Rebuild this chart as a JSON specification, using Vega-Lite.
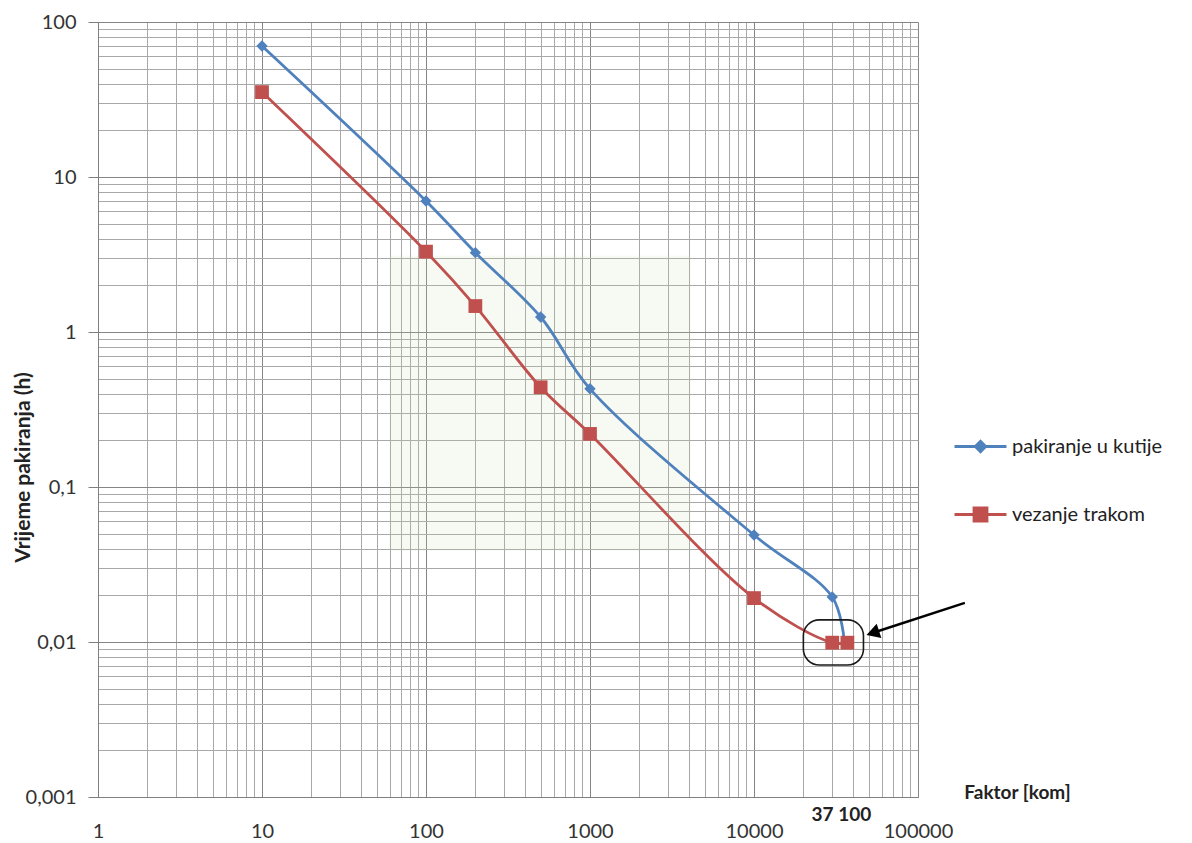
{
  "$schema": "https://vega.github.io/schema/vega-lite/v6.json",
  "width": 820,
  "height": 775,
  "autosize": "none",
  "padding": {"left": 98, "top": 22, "right": 274, "bottom": 46},
  "background": "white",
  "config": {
    "view": {"stroke": null},
    "font": "Lato"
  },
  "datasets": {
    "series": [
      {"faktor": 10, "vrijeme": 70, "serija": "pakiranje u kutije"},
      {"faktor": 100, "vrijeme": 7, "serija": "pakiranje u kutije"},
      {"faktor": 200, "vrijeme": 3.25, "serija": "pakiranje u kutije"},
      {"faktor": 500, "vrijeme": 1.25, "serija": "pakiranje u kutije"},
      {"faktor": 1000, "vrijeme": 0.43, "serija": "pakiranje u kutije"},
      {"faktor": 10000, "vrijeme": 0.049, "serija": "pakiranje u kutije"},
      {"faktor": 30000, "vrijeme": 0.0195, "serija": "pakiranje u kutije"},
      {"faktor": 35500, "vrijeme": 0.0102, "serija": "pakiranje u kutije"},
      {"faktor": 10, "vrijeme": 35.3, "serija": "vezanje trakom"},
      {"faktor": 100, "vrijeme": 3.3, "serija": "vezanje trakom"},
      {"faktor": 200, "vrijeme": 1.47, "serija": "vezanje trakom"},
      {"faktor": 500, "vrijeme": 0.44, "serija": "vezanje trakom"},
      {"faktor": 1000, "vrijeme": 0.22, "serija": "vezanje trakom"},
      {"faktor": 10000, "vrijeme": 0.0192, "serija": "vezanje trakom"},
      {"faktor": 30000, "vrijeme": 0.0099, "serija": "vezanje trakom"},
      {"faktor": 37100, "vrijeme": 0.0099, "serija": "vezanje trakom"}
    ],
    "markersBlue": [
      {"faktor": 10, "vrijeme": 70},
      {"faktor": 100, "vrijeme": 7},
      {"faktor": 200, "vrijeme": 3.25},
      {"faktor": 500, "vrijeme": 1.25},
      {"faktor": 1000, "vrijeme": 0.43},
      {"faktor": 10000, "vrijeme": 0.049},
      {"faktor": 30000, "vrijeme": 0.0195}
    ],
    "markersRed": [
      {"faktor": 10, "vrijeme": 35.3},
      {"faktor": 100, "vrijeme": 3.3},
      {"faktor": 200, "vrijeme": 1.47},
      {"faktor": 500, "vrijeme": 0.44},
      {"faktor": 1000, "vrijeme": 0.22},
      {"faktor": 10000, "vrijeme": 0.0192},
      {"faktor": 30000, "vrijeme": 0.0099},
      {"faktor": 37100, "vrijeme": 0.0099}
    ],
    "watermark": [
      {"x1": 60, "x2": 4100, "y1": 3.1, "y2": 0.039}
    ],
    "box": [
      {"x1": 20000, "x2": 46500, "y1": 0.0139, "y2": 0.0071}
    ],
    "arrow": [
      {"faktor": 193000, "vrijeme": 0.0179, "k": 0},
      {"faktor": 55000, "vrijeme": 0.0116, "k": 1}
    ],
    "arrowhead": [
      {"faktor": 53000, "vrijeme": 0.01145}
    ],
    "note": [
      {"faktor": 37100, "vrijeme": 0.001, "tekst": "37 100"}
    ]
  },
  "layer": [
    {
      "data": {"name": "watermark"},
      "mark": {"type": "rect", "fill": "#c9dba8", "opacity": 0.14},
      "encoding": {
        "x": {"field": "x1", "type": "quantitative", "scale": {"type": "log", "domain": [1, 100000]},
          "axis": {
            "values": [1,2,3,4,5,6,7,8,9,10,20,30,40,50,60,70,80,90,100,200,300,400,500,600,700,800,900,1000,2000,3000,4000,5000,6000,7000,8000,9000,10000,20000,30000,40000,50000,60000,70000,80000,90000,100000],
            "labelExpr": "abs(log(datum.value)/LN10 - round(log(datum.value)/LN10)) < 0.000001 ? datum.label : ''",
            "format": "d",
            "labelOverlap": false,
            "labelFlush": false,
            "labelFontSize": 20,
            "labelColor": "#333333",
            "labelPadding": 24,
            "labelFont": "Lato",
            "ticks": false,
            "domainColor": "#7f7f7f",
            "gridColor": {"condition": {"test": "abs(log(datum.value)/LN10 - round(log(datum.value)/LN10)) < 0.000001", "value": "#858585"}, "value": "#a8a8a8"},
            "gridWidth": 1,
            "gridOpacity": 1,
            "title": "Faktor [kom]",
            "titleFont": "Lato",
            "titleFontSize": 19,
            "titleFontWeight": "bold",
            "titleColor": "#222222",
            "titleX": 919,
            "titleY": -5,
            "titleAlign": "center",
            "titleBaseline": "middle",
            "titleAngle": 0
          }
        },
        "x2": {"field": "x2"},
        "y": {"field": "y1", "type": "quantitative", "scale": {"type": "log", "domain": [0.001, 100]},
          "axis": {
            "values": [0.001,0.002,0.003,0.004,0.005,0.006,0.007,0.008,0.009,0.01,0.02,0.03,0.04,0.05,0.06,0.07,0.08,0.09,0.1,0.2,0.3,0.4,0.5,0.6,0.7,0.8,0.9,1,2,3,4,5,6,7,8,9,10,20,30,40,50,60,70,80,90,100],
            "labelExpr": "abs(log(datum.value)/LN10 - round(log(datum.value)/LN10)) < 0.000001 ? replace(toString(datum.value), '.', ',') : ''",
            "labelOverlap": false,
            "labelFontSize": 20,
            "labelColor": "#333333",
            "labelPadding": 12,
            "labelFont": "Lato",
            "tickSize": 10,
            "tickColor": "#7f7f7f",
            "tickOpacity": {"condition": {"test": "abs(log(datum.value)/LN10 - round(log(datum.value)/LN10)) < 0.000001", "value": 1}, "value": 0},
            "domainColor": "#7f7f7f",
            "gridColor": {"condition": {"test": "abs(log(datum.value)/LN10 - round(log(datum.value)/LN10)) < 0.000001", "value": "#858585"}, "value": "#a8a8a8"},
            "gridWidth": 1,
            "gridOpacity": 1,
            "title": "Vrijeme pakiranja (h)",
            "titleFont": "Lato",
            "titleFontSize": 21,
            "titleFontWeight": "bold",
            "titleColor": "#222222",
            "titleX": -75,
            "titleY": 445,
            "titleAngle": -90,
            "titleAlign": "center",
            "titleBaseline": "middle"
          }
        },
        "y2": {"field": "y2"}
      }
    },
    {
      "data": {"name": "series"},
      "mark": {"type": "line", "interpolate": "catmull-rom", "strokeWidth": 2.8},
      "encoding": {
        "x": {"field": "faktor", "type": "quantitative"},
        "y": {"field": "vrijeme", "type": "quantitative"},
        "color": {
          "field": "serija", "type": "nominal",
          "scale": {"domain": ["pakiranje u kutije", "vezanje trakom"], "range": ["#4f81bd", "#c0504d"]},
          "legend": {
            "title": null,
            "orient": "none",
            "legendX": 855,
            "legendY": 397,
            "symbolType": "M-1,0H1",
            "symbolSize": 2700,
            "symbolStrokeWidth": 2.8,
            "labelFont": "Lato",
            "labelFontSize": 20,
            "labelColor": "#222222",
            "labelOffset": 4,
            "rowPadding": 29,
            "encode": {
              "symbols": {
                "update": {
                  "shape": {"signal": "datum.value === 'pakiranje u kutije' ? 'M-1,0H1M0,-0.2L0.2,0L0,0.2L-0.2,0Z' : 'M-1,0H1M-0.25,-0.25H0.25V0.25H-0.25Z'"},
                  "fill": {"signal": "datum.value === 'pakiranje u kutije' ? '#4f81bd' : '#c0504d'"},
                  "stroke": {"signal": "datum.value === 'pakiranje u kutije' ? '#4f81bd' : '#c0504d'"},
                  "size": {"value": 2700},
                  "opacity": {"value": 1},
                  "fillOpacity": {"value": 1},
                  "strokeWidth": {"value": 2.8}
                }
              }
            }
          }
        }
      }
    },
    {
      "data": {"name": "markersBlue"},
      "mark": {"type": "point", "shape": "diamond", "filled": true, "color": "#4f81bd", "size": 130, "opacity": 1},
      "encoding": {
        "x": {"field": "faktor", "type": "quantitative"},
        "y": {"field": "vrijeme", "type": "quantitative"}
      }
    },
    {
      "data": {"name": "markersRed"},
      "mark": {"type": "point", "shape": "square", "filled": true, "color": "#c0504d", "size": 190, "opacity": 1},
      "encoding": {
        "x": {"field": "faktor", "type": "quantitative"},
        "y": {"field": "vrijeme", "type": "quantitative"}
      }
    },
    {
      "data": {"name": "box"},
      "mark": {"type": "rect", "fill": null, "fillOpacity": 0, "stroke": "#1a1a1a", "strokeWidth": 1.6, "cornerRadius": 16},
      "encoding": {
        "x": {"field": "x1", "type": "quantitative"},
        "x2": {"field": "x2"},
        "y": {"field": "y1", "type": "quantitative"},
        "y2": {"field": "y2"}
      }
    },
    {
      "data": {"name": "arrow"},
      "mark": {"type": "line", "stroke": "#000000", "strokeWidth": 2.4, "clip": false},
      "encoding": {
        "x": {"field": "faktor", "type": "quantitative"},
        "y": {"field": "vrijeme", "type": "quantitative"},
        "order": {"field": "k"}
      }
    },
    {
      "data": {"name": "arrowhead"},
      "mark": {"type": "point", "shape": "triangle-left", "filled": true, "color": "#000000", "size": 230, "angle": -18, "opacity": 1, "clip": false},
      "encoding": {
        "x": {"field": "faktor", "type": "quantitative"},
        "y": {"field": "vrijeme", "type": "quantitative"}
      }
    },
    {
      "data": {"name": "note"},
      "mark": {"type": "text", "font": "Lato", "fontSize": 19, "fontWeight": "bold", "color": "#222222", "dy": 18, "dx": -6, "baseline": "middle", "align": "center", "clip": false},
      "encoding": {
        "x": {"field": "faktor", "type": "quantitative"},
        "y": {"field": "vrijeme", "type": "quantitative"},
        "text": {"field": "tekst"}
      }
    }
  ]
}
